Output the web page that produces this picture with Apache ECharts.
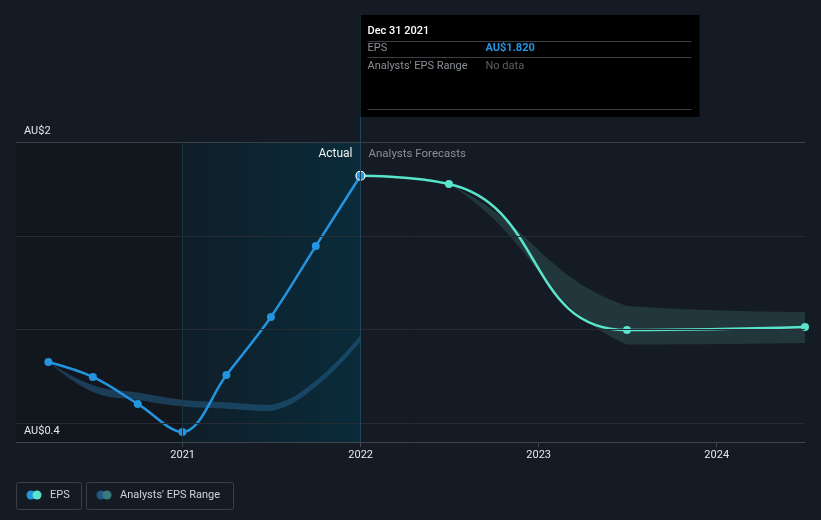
<!DOCTYPE html>
<html><head><meta charset="utf-8">
<script src="https://cdn.jsdelivr.net/npm/echarts@6/dist/echarts.min.js"></script>
<style>html,body{margin:0;padding:0;background:#151b24;}#c{width:821px;height:520px;}</style>
</head><body><div id="c"></div>
<script>
// ---- data ----
const actualX   = [2020.246, 2020.496, 2020.748, 2020.999, 2021.246, 2021.496, 2021.748, 2021.999];
const actualEps = [0.827, 0.747, 0.603, 0.453, 0.757, 1.067, 1.445, 1.82];
const forecastX   = [2021.999, 2022.496, 2023.496, 2024.496];
const forecastEps = [1.82, 1.776, 0.997, 1.013];
const forecastLow  = [1.82, 1.776, 0.920, 0.928];
const forecastHigh = [1.82, 1.776, 1.125, 1.093];
const pastRangeX    = [2020.246, 2020.496, 2020.748, 2020.999, 2021.246, 2021.496, 2021.748, 2021.999];
const pastRangeLow  = [0.827, 0.667, 0.624, 0.590, 0.578, 0.565, 0.695, 0.935];
const pastRangeHigh = [0.827, 0.704, 0.664, 0.626, 0.612, 0.598, 0.727, 0.968];
const xTickYears = [2021, 2022, 2023, 2024];
const yLabelValues = [0.4, 2];
const yGridValues = [0.5, 1.0, 1.5, 2.0];
const xMin = 2020.064, xMax = 2024.496;
const actualStart = 2021, actualEnd = 2021.999;

const BLUE = '#2394df', TEAL = '#5ae4cd';
const font = 'Roboto, "Noto Sans", sans-serif';

// smooth path through pixel points, control points clamped to each segment (no overshoot)
function smoothD(pts, s, cmd){
  const n = pts.length;
  function cp(i, dir){
    if (i === 0 || i === n-1) return pts[i].slice();
    const p = pts[i], a = pts[i-1], b = pts[i+1];
    const vx = b[0]-a[0], vy = b[1]-a[1];
    const dp = Math.abs(p[0]-a[0]), dn = Math.abs(b[0]-p[0]);
    const r = dir > 0 ? dn/(dp+dn) : -dp/(dp+dn);
    return [p[0]+vx*s*r, p[1]+vy*s*r];
  }
  const clampY = (c, y0, y1)=>[c[0], Math.min(Math.max(c[1], Math.min(y0,y1)), Math.max(y0,y1))];
  let d = cmd + pts[0][0] + ' ' + pts[0][1];
  for (let i = 1; i < n; i++){
    const y0 = pts[i-1][1], y1 = pts[i][1];
    const c1 = clampY(cp(i-1, 1), y0, y1), c2 = clampY(cp(i, -1), y0, y1);
    d += ' C' + c1[0] + ' ' + c1[1] + ' ' + c2[0] + ' ' + c2[1] + ' ' + pts[i][0] + ' ' + pts[i][1];
  }
  return d;
}

function bandSeries(xs, lo, hi, color, s){
  return {
    type:'custom', coordinateSystem:'cartesian2d', silent:true, clip:true,
    data:[[xs[0], lo[0]]],
    renderItem:function(params, api){
      const up = xs.map((x,i)=>api.coord([x, hi[i]]));
      const dn = xs.map((x,i)=>api.coord([x, lo[i]])).reverse();
      return {type:'path', shape:{pathData: smoothD(up, s, 'M') + ' ' + smoothD(dn, s, 'L') + ' Z'}, style:{fill:color}};
    }
  };
}

const chart = echarts.init(document.getElementById('c'), null, {renderer:'canvas'});
const option = {
  backgroundColor: '#151b24',
  animation: false,
  grid: {left:16, right:16, top:142, bottom:78},
  xAxis: {
    type:'value', min:xMin, max:xMax, z:10,
    axisLine:{show:true, lineStyle:{color:'#41464e', width:1}},
    axisTick:{show:true, customValues:xTickYears, length:5, lineStyle:{color:'#41464e'}},
    axisLabel:{customValues:xTickYears, color:'#e6e8ea', fontSize:11, fontFamily:font, margin:8, formatter:v=>String(Math.round(v))},
    splitLine:{show:false}
  },
  yAxis: {
    type:'value', min:0.4, max:2, z:10,
    axisLine:{show:false}, axisTick:{show:false}, splitLine:{show:false},
    axisLabel:{customValues:yLabelValues, inside:true, margin:8, color:'#e6e8ea', fontSize:11, fontFamily:font,
      verticalAlign:'bottom', padding:[0,0,5,0], formatter:v=>'AU$'+(+v.toFixed(1))}
  },
  series: [
    { // background regions + gridlines
      type:'line', data:[], silent:true,
      markArea:{silent:true, data:[
        [{xAxis:xMin, itemStyle:{color:'#12161d'}}, {xAxis:actualStart}],
        [{xAxis:actualStart, itemStyle:{color:{type:'linear',x:0,y:0,x2:1,y2:0,colorStops:[{offset:0,color:'#0f1e29'},{offset:1,color:'#0a2b3a'}]}}}, {xAxis:actualEnd}]
      ]},
      markLine:{silent:true, symbol:'none', label:{show:false},
        lineStyle:{type:'solid', width:1, color:'#272c34'},
        data: yGridValues.map(v=>({yAxis:v, lineStyle:{color: v===2 ? '#3c4149' : '#272c34'}}))
          .concat([{xAxis:actualStart, lineStyle:{color:'#1b3340'}}])}
    },
    bandSeries(pastRangeX, pastRangeLow, pastRangeHigh, 'rgba(36,100,145,0.5)', 0.45),
    bandSeries(forecastX, forecastLow, forecastHigh, '#22373c', 0.5),
    {name:'Forecast', type:'line', data:forecastX.map((x,i)=> i===0 ? {value:[x,forecastEps[i]], symbol:'none'} : [x,forecastEps[i]]),
      smooth:0.5, symbol:'circle', symbolSize:8, clip:false,
      lineStyle:{color:TEAL, width:2.5}, itemStyle:{color:TEAL}},
    {name:'EPS', type:'line', data:actualX.map((x,i)=> i===actualX.length-1 ?
        {value:[x,actualEps[i]], symbolSize:9, itemStyle:{color:BLUE, borderColor:'#ffffff', borderWidth:1.2}} : [x,actualEps[i]]),
      smooth:0.35, symbol:'circle', symbolSize:8,
      lineStyle:{color:BLUE, width:2.5}, itemStyle:{color:BLUE}}
  ]
};
chart.setOption(option);

const divX = chart.convertToPixel({xAxisIndex:0}, actualEnd);
const topY = chart.convertToPixel({yAxisIndex:0}, 2);
const botY = chart.convertToPixel({yAxisIndex:0}, 0.4);
const tipL = Math.round(divX)+0.5, tipT = 15, tipW = 339, tipH = 102;
const txt = (x,y,s,color,extra)=>({type:'text', x, y, z:100, style:Object.assign({text:s, fill:color, font:'11px '+font, verticalAlign:'middle'}, extra||{})});
const hline = (y)=>({type:'line', z:100, shape:{x1:tipL+7, y1:y, x2:tipL+331, y2:y}, style:{stroke:'#3d3f43', lineWidth:1}});
chart.setOption({graphic:[
  {type:'line', shape:{x1:tipL, y1:tipT, x2:tipL, y2:botY}, style:{stroke:'#1f4656', lineWidth:1}, z:50},
  txt(divX-8, topY+12, 'Actual', '#f0f2f4', {align:'right', font:'12px '+font}),
  txt(divX+8, topY+12, 'Analysts Forecasts', '#8b9097', {align:'left', font:'11.5px '+font}),
  {type:'rect', shape:{x:tipL, y:tipT, width:tipW, height:tipH}, style:{fill:'#000000'}, z:90},
  txt(tipL+7, 31, 'Dec 31 2021', '#ffffff', {font:'500 11px '+font}),
  hline(41.5),
  txt(tipL+7, 48, 'EPS', '#8b9097'),
  txt(tipL+125, 48, 'AU$1.820', BLUE, {font:'bold 11px '+font}),
  hline(57.5),
  txt(tipL+7, 66, "Analysts' EPS Range", '#8b9097'),
  txt(tipL+125, 66, 'No data', '#5c6168'),
  hline(109.5),
  // legend
  {type:'rect', z:100, shape:{x:16.5, y:482.5, width:65, height:27, r:2}, style:{fill:'none', stroke:'#3a3f47', lineWidth:1}},
  {type:'circle', z:100, shape:{cx:31, cy:495, r:4.5}, style:{fill:BLUE}},
  {type:'circle', z:100, shape:{cx:37, cy:495, r:4.5}, style:{fill:TEAL}},
  txt(50, 495.5, 'EPS', '#d0d3d6'),
  {type:'rect', z:100, shape:{x:86.5, y:482.5, width:147, height:27, r:2}, style:{fill:'none', stroke:'#3a3f47', lineWidth:1}},
  {type:'circle', z:100, shape:{cx:101, cy:495, r:4.5}, style:{fill:'#1f5a86'}},
  {type:'circle', z:100, shape:{cx:107, cy:495, r:4.5}, style:{fill:'#3a7a78'}},
  txt(120, 495.5, "Analysts' EPS Range", '#d0d3d6')
]});
</script></body></html>
